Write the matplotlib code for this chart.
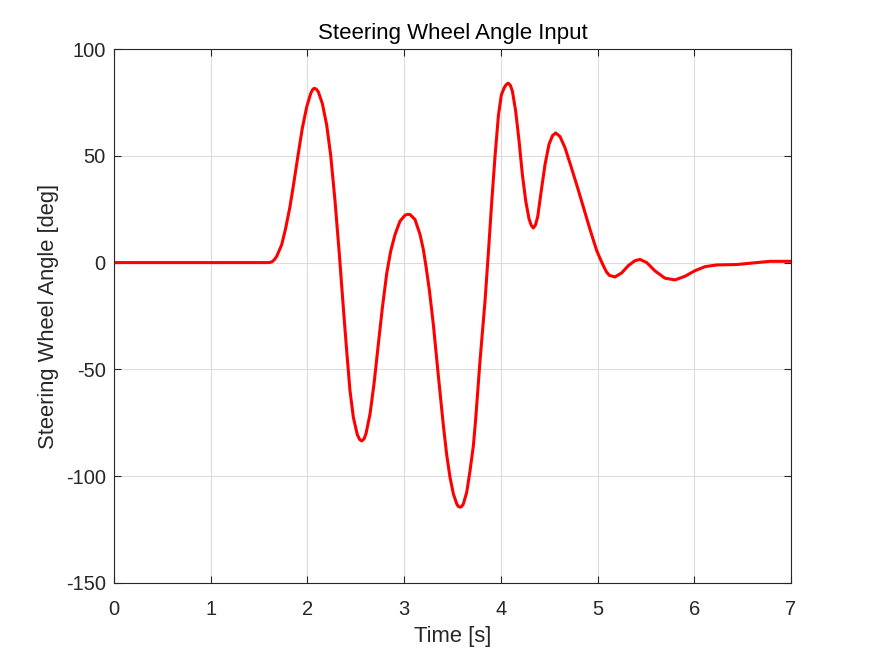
import numpy as np
import matplotlib
matplotlib.use("Agg")
import matplotlib.pyplot as plt

# steering wheel angle trace
time_s = [0.0, 1.60, 1.631, 1.655, 1.682, 1.734, 1.775, 1.82, 1.861, 1.906,
          1.947, 1.993, 2.034, 2.052, 2.071, 2.092, 2.112, 2.154, 2.199, 2.24,
          2.285, 2.328, 2.371, 2.406, 2.44, 2.475, 2.516, 2.54, 2.561, 2.585,
          2.606, 2.647, 2.688, 2.733, 2.775, 2.82, 2.861, 2.906, 2.957, 3.009,
          3.035, 3.061, 3.112, 3.164, 3.199, 3.23, 3.261, 3.302, 3.354, 3.405,
          3.44, 3.474, 3.509, 3.544, 3.561, 3.578, 3.595, 3.612, 3.647, 3.681,
          3.716, 3.74, 3.784, 3.836, 3.87, 3.905, 3.94, 3.975, 4.005, 4.036,
          4.057, 4.077, 4.098, 4.119, 4.153, 4.188, 4.222, 4.257, 4.291, 4.314,
          4.336, 4.358, 4.381, 4.422, 4.457, 4.498, 4.535, 4.567, 4.612, 4.663,
          4.715, 4.784, 4.853, 4.922, 4.991, 5.03, 5.06, 5.091, 5.122, 5.18,
          5.25, 5.318, 5.387, 5.439, 5.508, 5.594, 5.697, 5.8, 5.904, 6.007,
          6.111, 6.232, 6.439, 6.646, 6.783, 7.0]
angle_deg = [0.0, 0.0, 0.3, 1.2, 2.9, 8.4, 16.1, 26.3, 37.9, 51.2,
             62.9, 73.0, 79.2, 80.9, 81.6, 81.2, 80.0, 74.5, 64.4, 50.4,
             29.0, 5.0, -21.0, -41.4, -60.0, -72.5, -80.6, -82.8, -83.5, -82.6,
             -80.0, -70.9, -56.9, -38.2, -21.1, -5.0, 5.4, 13.2, 19.4, 22.2,
             22.6, 22.5, 20.2, 13.2, 6.0, -3.0, -13.0, -29.0, -53.2, -76.0,
             -90.0, -100.5, -108.3, -113.0, -114.2, -114.5, -114.2, -113.0, -107.5, -97.5,
             -85.7, -73.0, -46.2, -18.1, 4.0, 28.0, 50.0, 69.0, 78.5, 82.0,
             83.4, 84.0, 83.0, 80.3, 71.0, 57.0, 41.4, 28.9, 20.5, 17.5,
             16.2, 17.6, 21.5, 35.0, 46.0, 55.4, 59.5, 60.7, 59.0, 53.8,
             46.5, 36.5, 26.0, 15.5, 5.6, 1.5, -1.5, -4.3, -6.0, -6.7,
             -4.8, -1.4, 0.9, 1.5, 0.0, -3.9, -7.3, -8.1, -6.4, -3.8,
             -1.9, -1.1, -0.9, 0.0, 0.6, 0.6]

x_ticks = [0, 1, 2, 3, 4, 5, 6, 7]
y_ticks = [-150, -100, -50, 0, 50, 100]

plt.rcParams['font.family'] = ['Liberation Sans', 'DejaVu Sans']
plt.rcParams['axes.unicode_minus'] = False

fig = plt.figure(figsize=(8.75, 6.56), dpi=100)
ax = fig.add_axes([0.1303, 0.1113, 0.7737, 0.8140])

ax.plot(time_s, angle_deg, color='#ff0000', linewidth=2.2,
        solid_joinstyle='round', solid_capstyle='round')

ax.set_xlim(0, 7)
ax.set_ylim(-150, 100)
ax.set_xticks(x_ticks)
ax.set_yticks(y_ticks)
ax.grid(True, color='#dcdcdc', linewidth=0.8)
ax.set_axisbelow(True)

ax.tick_params(direction='in', length=5, width=0.8, colors='#262626',
               labelsize=14.5, top=True, right=True)
ax.tick_params(axis='x', pad=12)
ax.tick_params(axis='y', pad=6)
for s in ax.spines.values():
    s.set_color('#262626')
    s.set_linewidth(0.8)

ax.set_title('Steering Wheel Angle Input', fontsize=16, color='black', pad=7.5)
ax.set_xlabel('Time [s]', fontsize=15.8, color='#262626', labelpad=5.5)
ax.set_ylabel('Steering Wheel Angle [deg]', fontsize=15.8, color='#262626', labelpad=5)

fig.savefig('out.png', dpi=100)
